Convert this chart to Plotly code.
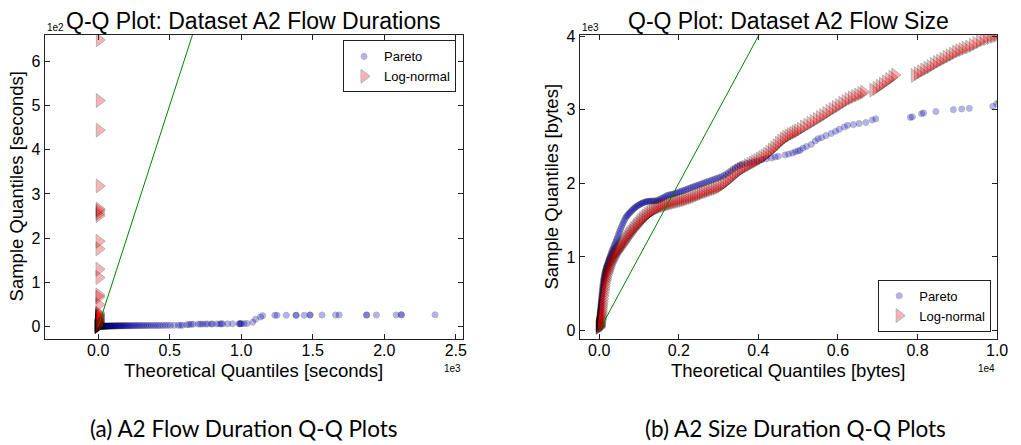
import plotly.graph_objects as go

W, H = 1021, 445

# ---------------- data: left panel (flow durations, seconds) ----------------
dur_pareto_x = [0, 1, 2, 3, 4, 5, 6, 7, 8, 9, 10,
                12, 14, 16, 18, 20, 22, 24, 26, 28, 30,
                33, 36, 39, 42, 45, 48, 51, 54, 57, 60,
                64, 68, 72, 76, 80, 84, 88, 92, 96, 100,
                105, 110, 115, 120, 125, 130,
                136, 142, 148, 154, 160,
                167, 174, 181, 188, 196, 204, 212, 221, 230, 240, 250,
                260, 271, 282, 294, 306, 318, 331, 344, 358, 372,
                387, 402, 418, 434, 451, 468, 486, 505,
                530, 560, 575, 590,
                620, 635, 650, 665, 700, 715, 730, 750, 765, 790, 800, 830, 850, 860, 870,
                905, 940, 985, 990, 995, 1000, 1020, 1040,
                1080, 1100, 1135, 1150,
                1235, 1250, 1315, 1382, 1385, 1440, 1480, 1482, 1565, 1660, 1685, 1875, 1878,
                1945, 2083, 2118, 2121, 2355]
dur_pareto_y = [0, 0.1, 0.2, 0.3, 0.4, 0.5, 0.5, 0.6, 0.6, 0.7, 0.7,
                0.8, 0.8, 0.9, 0.9, 1.0, 1.0, 1.0, 1.1, 1.1, 1.1,
                1.2, 1.2, 1.2, 1.3, 1.3, 1.3, 1.4, 1.4, 1.4, 1.5,
                1.5, 1.5, 1.6, 1.6, 1.6, 1.7, 1.7, 1.7, 1.8, 1.8,
                1.8, 1.9, 1.9, 1.9, 2.0, 2.0,
                2.0, 2.1, 2.1, 2.1, 2.2,
                2.2, 2.2, 2.3, 2.3, 2.3, 2.4, 2.4, 2.4, 2.5, 2.5, 2.5,
                2.6, 2.6, 2.6, 2.7, 2.7, 2.7, 2.8, 2.8, 2.8, 2.9,
                2.9, 2.9, 3.0, 3.0, 3.0, 3.1, 3.1, 3.1,
                3.2, 3.2, 3.3, 3.4,
                4.5, 5.0, 5.5, 5.8, 6.0, 6.0, 6.1, 6.2, 6.2, 6.3, 6.3, 6.4, 6.4, 6.5, 6.5,
                6.6, 6.7, 6.8, 6.8, 6.9, 6.9, 7.0, 7.2,
                10, 17, 22, 25,
                26, 26, 26, 26, 26, 26, 26.5, 26.5, 26.5, 26.5, 26.5, 26.5, 26.5,
                26.5, 26.5, 27, 27, 27]

dur_lognorm_x = [0.0, 0.2, 0.4, 0.6, 0.8, 1.0, 1.2, 1.4, 1.6, 1.8, 2.0, 2.2, 2.4, 2.6, 2.8,
                 3.0, 3.2, 3.4, 3.6, 3.8, 4.0, 4.2, 4.4, 4.6, 4.8, 5.0, 5.2, 5.4, 5.6, 5.8,
                 6.0, 6.2, 6.4, 6.6, 6.8, 7.0, 7.2, 7.4, 7.6, 7.8, 8.0, 8.2, 8.4, 8.6]
dur_lognorm_y = [0.1, 0.3, 0.6, 1.0, 1.4, 1.9, 2.4, 3.0, 3.6, 4.3, 5.0, 5.8, 6.6, 7.5, 8.5,
                 9.5, 10.6, 11.8, 13.0, 14.3, 15.7, 17.2, 18.8, 20.5, 22.3, 24.2, 26.2, 28.3,
                 30.5, 50, 67, 72, 111, 130, 176, 193, 251, 256, 262, 266, 318, 444, 511, 648]

# ---------------- data: right panel (flow size, bytes) ----------------
size_pareto_x = [0, 2, 4, 6, 8, 10, 12, 14, 17, 20, 23, 26, 29, 32, 36, 40, 44, 48, 52, 57,
                 62, 67, 72, 78, 84, 90, 97, 104, 111, 119, 127, 136, 145, 155, 165, 176, 187,
                 199, 211, 224, 237, 251, 265, 280, 295, 311, 327, 344, 361, 379, 397, 416, 435,
                 455, 475, 496, 517, 539, 561, 584, 607, 631, 655, 680, 705, 731, 757, 784, 811,
                 839, 867, 896, 925, 955, 985, 1016, 1047, 1079, 1111, 1144, 1177, 1211, 1245,
                 1280, 1315, 1351, 1387, 1424, 1461, 1499, 1537, 1576, 1615, 1655, 1695, 1736,
                 1777, 1819, 1861, 1904, 1947, 1991, 2035, 2080, 2125, 2171, 2217, 2264, 2311,
                 2359, 2407, 2456, 2505, 2555, 2605, 2656, 2707, 2759, 2811, 2864, 2917, 2971,
                 3025, 3080, 3135, 3191, 3247, 3304, 3361, 3419, 3477, 3536, 3595,
                 3700, 3790, 3880, 3970, 4090, 4200, 4330, 4420, 4500, 4670, 4760, 4860, 4930,
                 5000, 5050, 5120, 5210, 5330, 5430, 5500, 5590, 5700, 5830, 5940, 6035, 6160,
                 6244, 6390, 6533, 6700, 6860, 6950, 7820, 7870, 8100, 8150, 8460, 8900, 9110,
                 9300, 9890, 9990, 10060]
size_pareto_y = [20, 36, 52, 68, 84, 100, 116, 132, 156, 180, 204, 228, 252, 274, 300, 327,
                 353, 378, 402, 432, 461, 490, 517, 549, 580, 608, 640, 668, 693, 718, 742, 767,
                 790, 810, 828, 848, 866, 885, 905, 928, 950, 972, 992, 1015, 1040, 1063, 1085,
                 1108, 1130, 1155, 1180, 1205, 1232, 1260, 1290, 1320, 1350, 1380, 1410, 1440,
                 1467, 1495, 1522, 1545, 1562, 1578, 1594, 1610, 1625, 1640, 1655, 1668, 1680,
                 1692, 1702, 1712, 1722, 1730, 1737, 1744, 1750, 1754, 1756, 1758, 1759, 1760,
                 1761, 1762, 1766, 1775, 1785, 1795, 1806, 1818, 1830, 1838, 1845, 1850, 1855,
                 1862, 1870, 1878, 1886, 1895, 1904, 1913, 1922, 1932, 1942, 1952, 1961, 1970,
                 1979, 1990, 2000, 2010, 2020, 2030, 2040, 2050, 2060, 2071, 2082, 2093, 2108,
                 2125, 2145, 2168, 2192, 2212, 2230, 2244, 2254,
                 2268, 2278, 2290, 2303, 2318, 2333, 2343, 2358, 2366, 2385, 2397, 2412, 2428,
                 2440, 2450, 2478, 2500, 2528, 2575, 2605, 2620, 2648, 2676, 2705, 2733, 2764,
                 2787, 2798, 2812, 2826, 2860, 2876, 2895, 2902, 2945, 2955, 2974, 3000, 3010,
                 3018, 3045, 3080, 3100]

size_lognorm_x = [0, 3, 6, 9, 12, 15, 18, 21, 25, 29, 33, 37, 41, 45, 50, 55, 60, 66, 72, 78,
                  85, 92, 100, 108, 116, 125, 134, 143, 153, 163, 174, 186, 198, 211, 224, 238,
                  252, 267, 283, 300, 318, 336, 355, 375, 395, 416, 438, 461, 485, 510, 535,
                  561, 588, 616, 645, 675, 705, 736, 768, 800, 833, 867, 902, 937, 973, 1010,
                  1048, 1087, 1127, 1168, 1210, 1252, 1295, 1340, 1385, 1430, 1477, 1525, 1573,
                  1622, 1672, 1722, 1773, 1825, 1877, 1930, 1983, 2037, 2091, 2146, 2201, 2257,
                  2313, 2370, 2427, 2484, 2542, 2600, 2658, 2716, 2775, 2834, 2893, 2952, 3011,
                  3070, 3130, 3190, 3250, 3310, 3370, 3430, 3490, 3550, 3610,
                  3670, 3730, 3790, 3850, 3910, 3970, 4030, 4090, 4150, 4210, 4270, 4330, 4390,
                  4450, 4510, 4570, 4630, 4690, 4750, 4810, 4870, 4930, 4990, 5060, 5140, 5220,
                  5300, 5380, 5460, 5540, 5620, 5700, 5780, 5860, 5940, 6020, 6100, 6180, 6260,
                  6340, 6420, 6500, 6580, 6650, 6880, 6960, 7040, 7120, 7200, 7280, 7360, 7430,
                  7920, 8000, 8080, 8160, 8240, 8320, 8400, 8480, 8560, 8640, 8720, 8800, 8880,
                  8960, 9040, 9120, 9200, 9290, 9380, 9470, 9560, 9650, 9740, 9830, 9920, 10000]
size_lognorm_y = [40, 48, 57, 66, 75, 85, 95, 105, 120, 135, 150, 165, 183, 200, 222, 245, 270,
                  300, 330, 360, 395, 430, 470, 505, 540, 572, 605, 640, 670, 698, 725, 752, 778,
                  800, 822, 843, 865, 888, 910, 930, 950, 970, 990, 1010, 1030, 1048, 1066, 1084,
                  1102, 1120, 1140, 1160, 1180, 1200, 1222, 1245, 1268, 1292, 1315, 1338, 1360,
                  1383, 1405, 1428, 1450, 1472, 1495, 1517, 1538, 1558, 1578, 1596, 1614, 1630,
                  1645, 1658, 1670, 1682, 1692, 1700, 1708, 1716, 1724, 1732, 1740, 1748, 1755,
                  1762, 1770, 1778, 1788, 1798, 1808, 1820, 1832, 1845, 1858, 1870, 1882, 1893,
                  1904, 1915, 1926, 1938, 1952, 1970, 1995, 2020, 2048, 2075, 2105, 2132, 2158,
                  2185, 2205,
                  2222, 2240, 2258, 2276, 2294, 2312, 2330, 2350, 2372, 2398, 2425, 2452, 2482,
                  2512, 2545, 2575, 2602, 2625, 2645, 2662, 2680, 2697, 2712, 2735, 2765, 2790,
                  2815, 2840, 2868, 2895, 2920, 2948, 2978, 3005, 3030, 3055, 3088, 3112, 3138,
                  3160, 3180, 3200, 3220, 3238, 3265, 3290, 3320, 3350, 3380, 3410, 3440, 3470,
                  3465, 3490, 3515, 3540, 3562, 3585, 3615, 3640, 3660, 3685, 3710, 3730, 3755,
                  3780, 3800, 3815, 3835, 3850, 3875, 3900, 3925, 3950, 3965, 3980, 3995, 4010]

# reference line y = x
ref_line = [0, 10000]

# ticks
dur_x_ticks = [0, 500, 1000, 1500, 2000, 2500]
dur_x_labels = ["0.0", "0.5", "1.0", "1.5", "2.0", "2.5"]
dur_y_ticks = [0, 100, 200, 300, 400, 500, 600]
dur_y_labels = ["0", "1", "2", "3", "4", "5", "6"]
size_x_ticks = [0, 2000, 4000, 6000, 8000, 10000]
size_x_labels = ["0.0", "0.2", "0.4", "0.6", "0.8", "1.0"]
size_y_ticks = [0, 1000, 2000, 3000, 4000]
size_y_labels = ["0", "1", "2", "3", "4"]

# ---------------- figure ----------------
FONT = "Liberation Sans, Arial, sans-serif"


def px_x(p):
    return p / W


def px_y(p):
    return 1 - p / H


fig = go.Figure()

blue_marker = dict(symbol="circle", size=6, color="blue", opacity=0.3,
                   line=dict(color="black", width=1))
red_marker = dict(symbol="triangle-right", size=12, color="red", opacity=0.3,
                  line=dict(color="black", width=1))

# left panel
fig.add_trace(go.Scatter(x=dur_pareto_x, y=dur_pareto_y, mode="markers", name="Pareto",
                         marker=blue_marker, xaxis="x", yaxis="y", legend="legend"))
fig.add_trace(go.Scatter(x=dur_lognorm_x, y=dur_lognorm_y, mode="markers", name="Log-normal",
                         marker=red_marker, xaxis="x", yaxis="y", legend="legend"))
fig.add_trace(go.Scatter(x=ref_line, y=ref_line, mode="lines", showlegend=False,
                         line=dict(color="green", width=1), xaxis="x", yaxis="y"))

# right panel
fig.add_trace(go.Scatter(x=size_pareto_x, y=size_pareto_y, mode="markers", name="Pareto",
                         marker=blue_marker, xaxis="x2", yaxis="y2", legend="legend2"))
fig.add_trace(go.Scatter(x=size_lognorm_x, y=size_lognorm_y, mode="markers", name="Log-normal",
                         marker=red_marker, xaxis="x2", yaxis="y2", legend="legend2"))
fig.add_trace(go.Scatter(x=ref_line, y=ref_line, mode="lines", showlegend=False,
                         line=dict(color="green", width=1), xaxis="x2", yaxis="y2"))

axis_common = dict(showgrid=False, zeroline=False, showline=True, linecolor="#222",
                   linewidth=1, mirror="allticks", ticks="inside", ticklen=5,
                   tickcolor="#222", tickfont=dict(family=FONT, size=16, color="black"))

y_dom = [px_y(337), px_y(28)]
legend_common = dict(bordercolor="#222", borderwidth=1, bgcolor="white",
                     font=dict(family=FONT, size=13), itemwidth=30, tracegroupgap=0)
fig.update_layout(
    width=W, height=H, margin=dict(l=0, r=0, t=0, b=0),
    paper_bgcolor="white", plot_bgcolor="white",
    font=dict(family=FONT, color="black"),
    xaxis=dict(domain=[px_x(45), px_x(468)], range=[-375, 2550], anchor="y",
               tickvals=dur_x_ticks, ticktext=dur_x_labels, ticklabelstandoff=-3,
               **axis_common),
    yaxis=dict(domain=y_dom, range=[-27, 660], anchor="x",
               tickvals=dur_y_ticks, ticktext=dur_y_labels, **axis_common),
    xaxis2=dict(domain=[px_x(586), px_x(1008)], range=[-490, 10000], anchor="y2",
                tickvals=size_x_ticks, ticktext=size_x_labels, ticklabelstandoff=-3,
                **axis_common),
    yaxis2=dict(domain=y_dom, range=[-110, 4020], anchor="x2",
                tickvals=size_y_ticks, ticktext=size_y_labels, **axis_common),
    legend=dict(x=px_x(461), y=px_y(34), xanchor="right", yanchor="top", **legend_common),
    legend2=dict(x=px_x(1002), y=px_y(330), xanchor="right", yanchor="bottom",
                 **legend_common),
)

ann = []


def add_text(text, x, y, size, family=FONT, angle=0, xanchor="center", yanchor="middle"):
    ann.append(dict(text=text, x=px_x(x), y=px_y(y), xref="paper", yref="paper",
                    showarrow=False, textangle=angle, xanchor=xanchor, yanchor=yanchor,
                    font=dict(family=family, size=size, color="black")))


add_text("Q-Q Plot: Dataset A2 Flow Durations", 256.5, 14, 23)
add_text("Q-Q Plot: Dataset A2 Flow Size", 797, 14, 23)
add_text("Theoretical Quantiles [seconds]", 256.5, 369, 18.5)
add_text("Theoretical Quantiles [bytes]", 797, 369, 18.5)
add_text("Sample Quantiles [seconds]", 17, 182.5, 18.5, angle=-90)
add_text("Sample Quantiles [bytes]", 558, 182.5, 18.5, angle=-90)
add_text("1e2", 45, 21, 10, xanchor="left")
add_text("1e3", 468, 367, 10, xanchor="right")
add_text("1e3", 586, 21, 10, xanchor="left")
add_text("1e4", 1008, 367, 10, xanchor="right")
add_text("(a) A2 Flow Duration Q-Q Plots", 247, 428, 22.5, family="Lato, sans-serif")
add_text("(b) A2 Size Duration Q-Q Plots", 804, 428, 22.5, family="Lato, sans-serif")
fig.update_layout(annotations=ann)

fig.write_html("out.html")
